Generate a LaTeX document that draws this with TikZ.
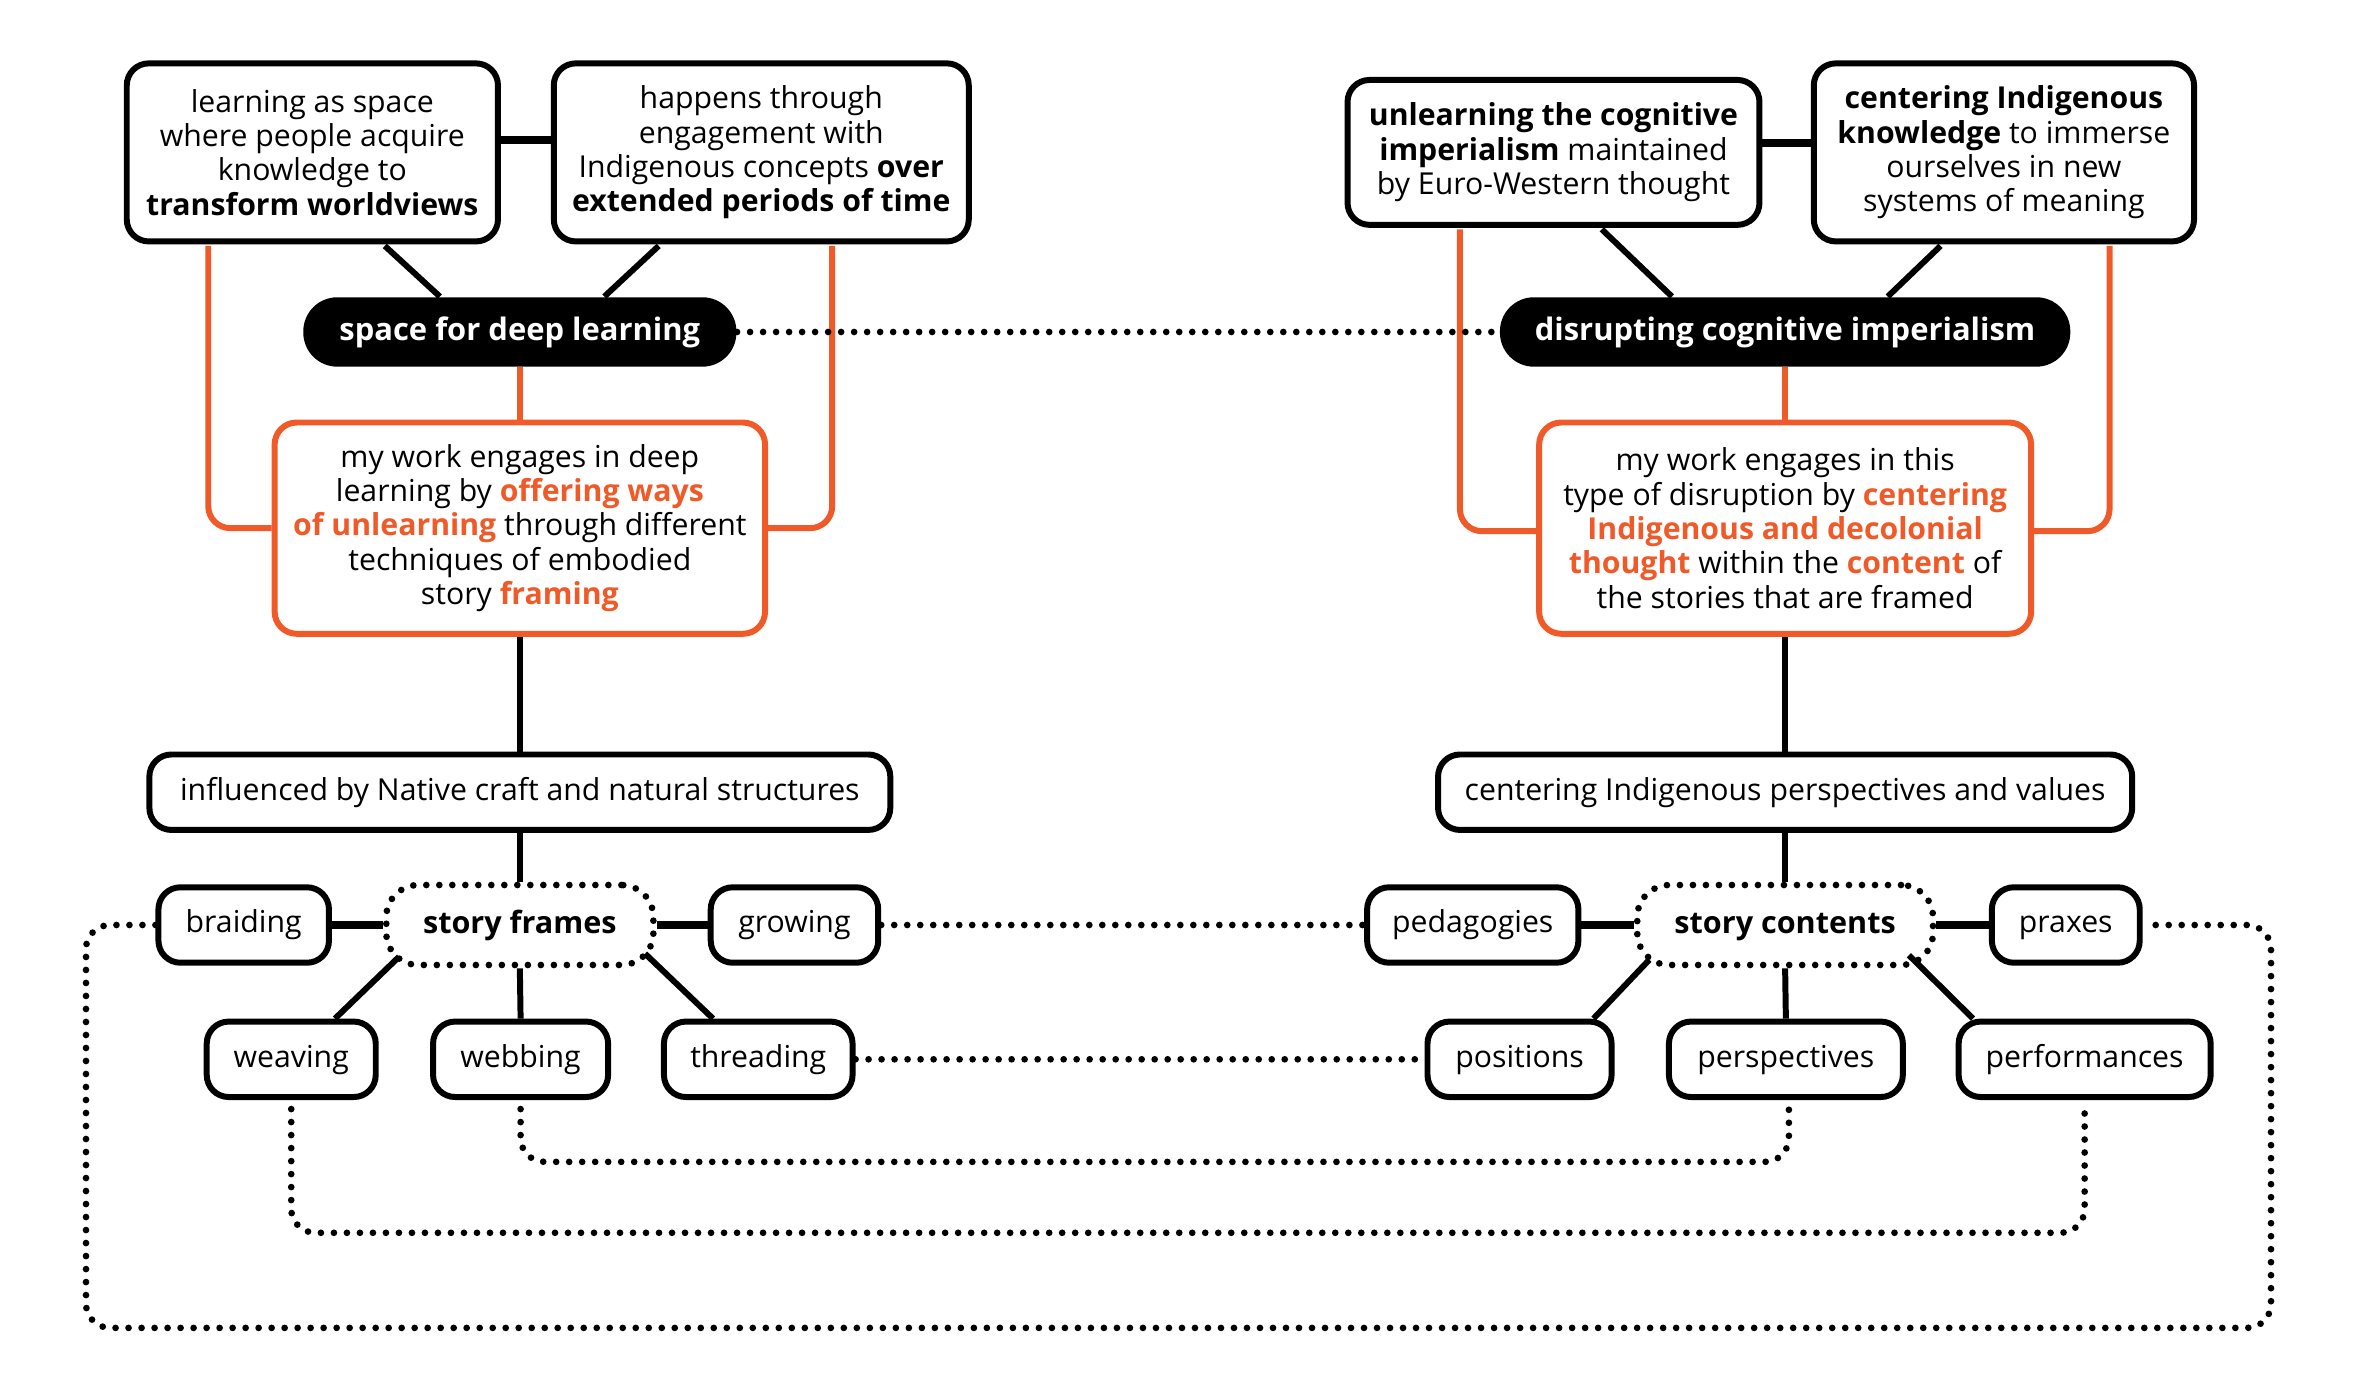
\documentclass[tikz,border=0pt]{standalone}
\usepackage{fontspec}
\setmainfont{Open Sans}
\usetikzlibrary{calc}
\definecolor{orng}{HTML}{F05A28}
\newcommand\hlo[1]{\textcolor{orng}{\textbf{#1}}}
\begin{document}
\begin{tikzpicture}[x=0.1509mm,y=-0.1509mm,
 sz/.style 2 args={minimum width=#1*0.1509mm, minimum height=#2*0.1509mm},
 base/.style={align=center, inner sep=0pt, fill=white, font=\fontsize{8.6}{9.8}\selectfont},
 box/.style={base, draw=black, line width=1.7pt, rounded corners=2.2mm},
 sbox/.style={box, text height=6.4pt, text depth=1.9pt},
 obox/.style={box, draw=orng},
 pill/.style={base, fill=black, text=white, rounded corners=3.4mm, text height=6.8pt, text depth=2pt, font=\fontsize{8.8}{11}\selectfont\bfseries},
 dotline/.style={line width=1.9pt, line cap=round, dash pattern=on 0pt off 3.7pt},
 dbox/.style={base, draw, dotline, rounded corners=3.2mm, text height=6.8pt, text depth=2pt, font=\fontsize{8.7}{11}\selectfont\bfseries},
 conn/.style={line width=1.7pt},
 heavy/.style={line width=2.3pt},
 oconn/.style={line width=1.7pt, draw=orng, rounded corners=2.2mm},
 dconn/.style={dotline, rounded corners=2.4mm},
]
\useasboundingbox (0,0) rectangle (1560,917.2);

\coordinate (c1) at (57,880);
\coordinate (c2) at (1505,613);

% ---- nodes left
\node[box, sz={246}{118}] (A) at (207,101) {learning as space\\where people acquire\\knowledge to\\\textbf{transform worldviews}};
\node[box, sz={275}{118}] (B) at (504.5,101) {happens through\\engagement with\\Indigenous concepts \textbf{over}\\\textbf{extended periods of time}};
\node[pill, sz={287}{46}] (C) at (344.5,220) {space for deep learning};
\node[obox, sz={325}{140}] (D) at (344.5,350) {my work engages in deep\\learning by \hlo{offering ways}\\\hlo{of unlearning} through different\\techniques of embodied\\story \hlo{framing}};
\node[sbox, sz={491}{50}] (E) at (344.5,525) {influenced by Native craft and natural structures};
\node[dbox, sz={177}{53}] (F) at (344.5,613) {story frames};
\node[sbox, sz={113}{50}] (braiding) at (161.5,613) {braiding};
\node[sbox, sz={111}{50}] (growing) at (526.5,613) {growing};
\node[sbox, sz={112}{50}] (weaving) at (193,702) {weaving};
\node[sbox, sz={116}{50}] (webbing) at (345,702) {webbing};
\node[sbox, sz={125}{50}] (threading) at (502.5,702) {threading};

% ---- nodes right
\node[box, sz={273}{96}] (G) at (1029.5,101) {\textbf{unlearning the cognitive}\\\textbf{imperialism} maintained\\by Euro-Western thought};
\node[box, sz={252}{118}] (H) at (1328,101) {\textbf{centering Indigenous}\\\textbf{knowledge} to immerse\\ourselves in new\\systems of meaning};
\node[pill, sz={378}{46}] (I) at (1183,220) {disrupting cognitive imperialism};
\node[obox, sz={326}{140}] (J) at (1183,350) {my work engages in this\\type of disruption by \hlo{centering}\\\hlo{Indigenous and decolonial}\\\hlo{thought} within the \hlo{content} of\\the stories that are framed};
\node[sbox, sz={460}{50}] (K) at (1183,525) {centering Indigenous perspectives and values};
\node[dbox, sz={196}{53}] (L) at (1183,613) {story contents};
\node[sbox, sz={140}{50}] (pedagogies) at (976,613) {pedagogies};
\node[sbox, sz={98}{50}] (praxes) at (1369,613) {praxes};
\node[sbox, sz={122}{50}] (positions) at (1007,702) {positions};
\node[sbox, sz={155}{50}] (perspectives) at (1183.5,702) {perspectives};
\node[sbox, sz={167}{50}] (performances) at (1381.5,702) {performances};

% ---- black connectors
\draw[heavy] ($(A.east)+(0,-8)$) -- ($(B.west)+(0,-8)$);
\draw[heavy] ($(G.east)+(0,-6)$) -- ($(H.west)+(0,-6)$);
\draw[conn] ($(A.south)+(48,1)$) -- ($(C.north)+(-53,0)$);
\draw[conn] ($(B.south)+(-68,1)$) -- ($(C.north)+(56,0)$);
\draw[conn] ($(G.south)+(32,1)$) -- ($(I.north)+(-75,0)$);
\draw[conn] ($(H.south)+(-42,1)$) -- ($(I.north)+(68,0)$);
\draw[conn] (D.south) -- (E.north);
\draw[conn] (E.south) -- (F.north);
\draw[conn] (J.south) -- (K.north);
\draw[conn] (K.south) -- (L.north);
\draw[heavy] (braiding.east) -- (F.west);
\draw[heavy] (F.east) -- (growing.west);
\draw[heavy] (pedagogies.east) -- (L.west);
\draw[heavy] (L.east) -- (praxes.west);
\draw[conn] (F.south) -- (webbing.north);
\draw[conn] (L.south) -- (perspectives.north);
\draw[conn] ($(F.center)+(-80,21)$) -- ($(weaving.north)+(29,0)$);
\draw[conn] ($(F.center)+(83,19)$) -- ($(threading.north)+(-30,0)$);
\draw[conn] ($(L.center)+(-90,23)$) -- ($(positions.north)+(49,0)$);
\draw[conn] ($(L.center)+(82,20)$) -- ($(performances.north)+(-74,0)$);

% ---- orange connectors
\draw[oconn] (C.south) -- (D.north);
\draw[oconn] (I.south) -- (J.north);
\draw[oconn] ($(A.south)+(-69,1)$) |- (D.west);
\draw[oconn] ($(B.south)+(47,1)$) |- (D.east);
\draw[oconn] ($(G.south)+(-62,1)$) |- ($(J.west)+(0,2)$);
\draw[oconn] ($(H.south)+(70,1)$) |- ($(J.east)+(0,2)$);

% ---- dotted connectors
\draw[dconn] (C.east) -- (I.west);
\draw[dconn] (growing.east) -- (pedagogies.west);
\draw[dconn] (threading.east) -- (positions.west);
\draw[dconn] ($(webbing.south)+(0,6)$) |- ($(perspectives.south)+(2,41)$) -- ($(perspectives.south)+(2,6)$);
\draw[dconn] ($(weaving.south)+(0,6)$) |- ($(performances.south)+(0,88)$) -- ($(performances.south)+(0,6)$);
\draw[dconn] (braiding.west) -| (c1) -| (c2) -- (praxes.east);
\end{tikzpicture}
\end{document}
